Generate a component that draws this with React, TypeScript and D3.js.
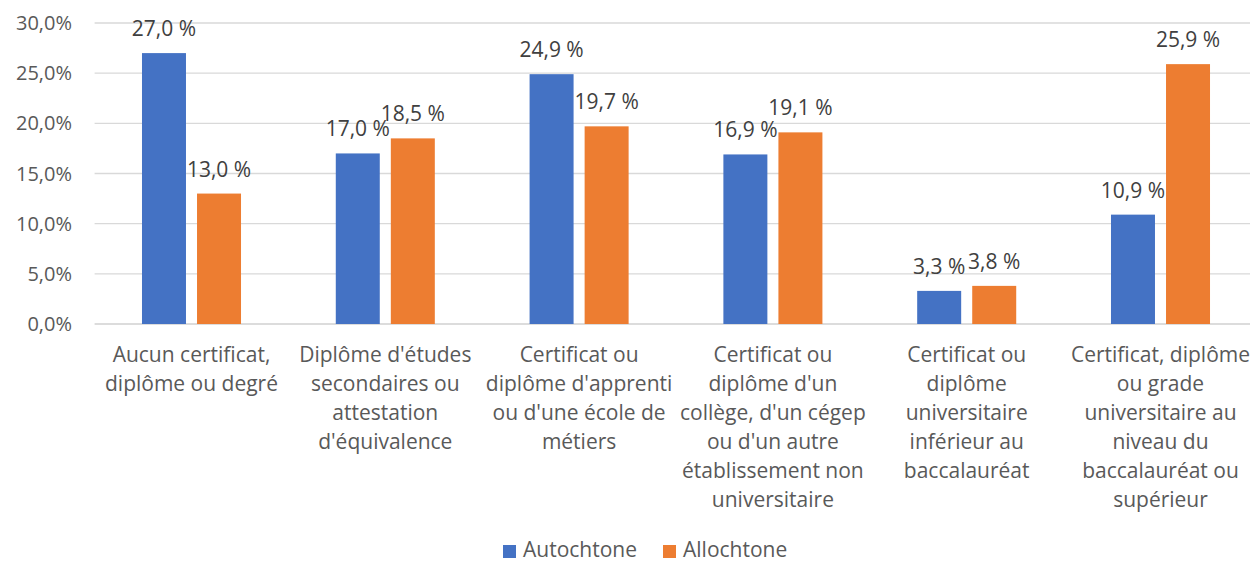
import React from "react";
import * as d3 from "d3";

const categories: string[][] = [
  ["Aucun certificat,", "diplôme ou degré"],
  ["Diplôme d'études", "secondaires ou", "attestation", "d'équivalence"],
  ["Certificat ou", "diplôme d'apprenti", "ou d'une école de", "métiers"],
  ["Certificat ou", "diplôme d'un", "collège, d'un cégep", "ou d'un autre", "établissement non", "universitaire"],
  ["Certificat ou", "diplôme", "universitaire", "inférieur au", "baccalauréat"],
  ["Certificat, diplôme", "ou grade", "universitaire au", "niveau du", "baccalauréat ou", "supérieur"],
];
const autochtone: number[] = [27.0, 17.0, 24.9, 16.9, 3.3, 10.9];
const allochtone: number[] = [13.0, 18.5, 19.7, 19.1, 3.8, 25.9];
const seriesNames: string[] = ["Autochtone", "Allochtone"];
const colors: string[] = ["#4472C4", "#ED7D31"];
const yTicks: number[] = [0, 5, 10, 15, 20, 25, 30];

const W = 1250;
const H = 562;
const FONT = "'Open Sans', sans-serif";

export default function App() {
  const x0 = d3.scaleBand<number>().domain(d3.range(categories.length)).range([94.6, 1257.4]).paddingInner(0).paddingOuter(0);
  const bw = x0.bandwidth();
  const barW = bw * 0.227;
  const gap = bw * 0.057;
  const y = d3.scaleLinear().domain([0, 30]).range([324, 23]);
  const fmt = (v: number) => v.toFixed(1).replace(".", ",");
  const series = [autochtone, allochtone];

  return (
    <svg width={W} height={H} style={{ position: "absolute", left: 0, top: 0, background: "#fff" }} fontFamily={FONT}>
      {yTicks.map((t) => (
        <g key={t}>
          <line x1={94.6} x2={W} y1={y(t)} y2={y(t)} stroke={t === 0 ? "#D0D0D0" : "#D9D9D9"} strokeWidth={1.3} />
          <text x={72} y={y(t) + 7} textAnchor="end" fontSize={20} fill="#595959">
            {fmt(t) + "%"}
          </text>
        </g>
      ))}
      {categories.map((lines, i) => {
        const cx = (x0(i) as number) + bw / 2;
        return (
          <g key={i}>
            {series.map((s, k) => {
              const bx = k === 0 ? cx - gap / 2 - barW : cx + gap / 2;
              return (
                <g key={k}>
                  <rect x={bx} y={y(s[i])} width={barW} height={y(0) - y(s[i])} fill={colors[k]} />
                  <text x={bx + barW / 2} y={y(s[i]) - 17} textAnchor="middle" fontSize={21} fill="#404040">
                    {fmt(s[i]) + " %"}
                  </text>
                </g>
              );
            })}
            {lines.map((ln, j) => (
              <text key={j} x={cx} y={362 + j * 29} textAnchor="middle" fontSize={21} fill="#595959">
                {ln}
              </text>
            ))}
          </g>
        );
      })}
      {seriesNames.map((n, k) => {
        const lx = k === 0 ? 503 : 663;
        return (
          <g key={n}>
            <rect x={lx} y={545} width={13} height={13} fill={colors[k]} />
            <text x={lx + 20} y={557} fontSize={21} fill="#595959">
              {n}
            </text>
          </g>
        );
      })}
    </svg>
  );
}
